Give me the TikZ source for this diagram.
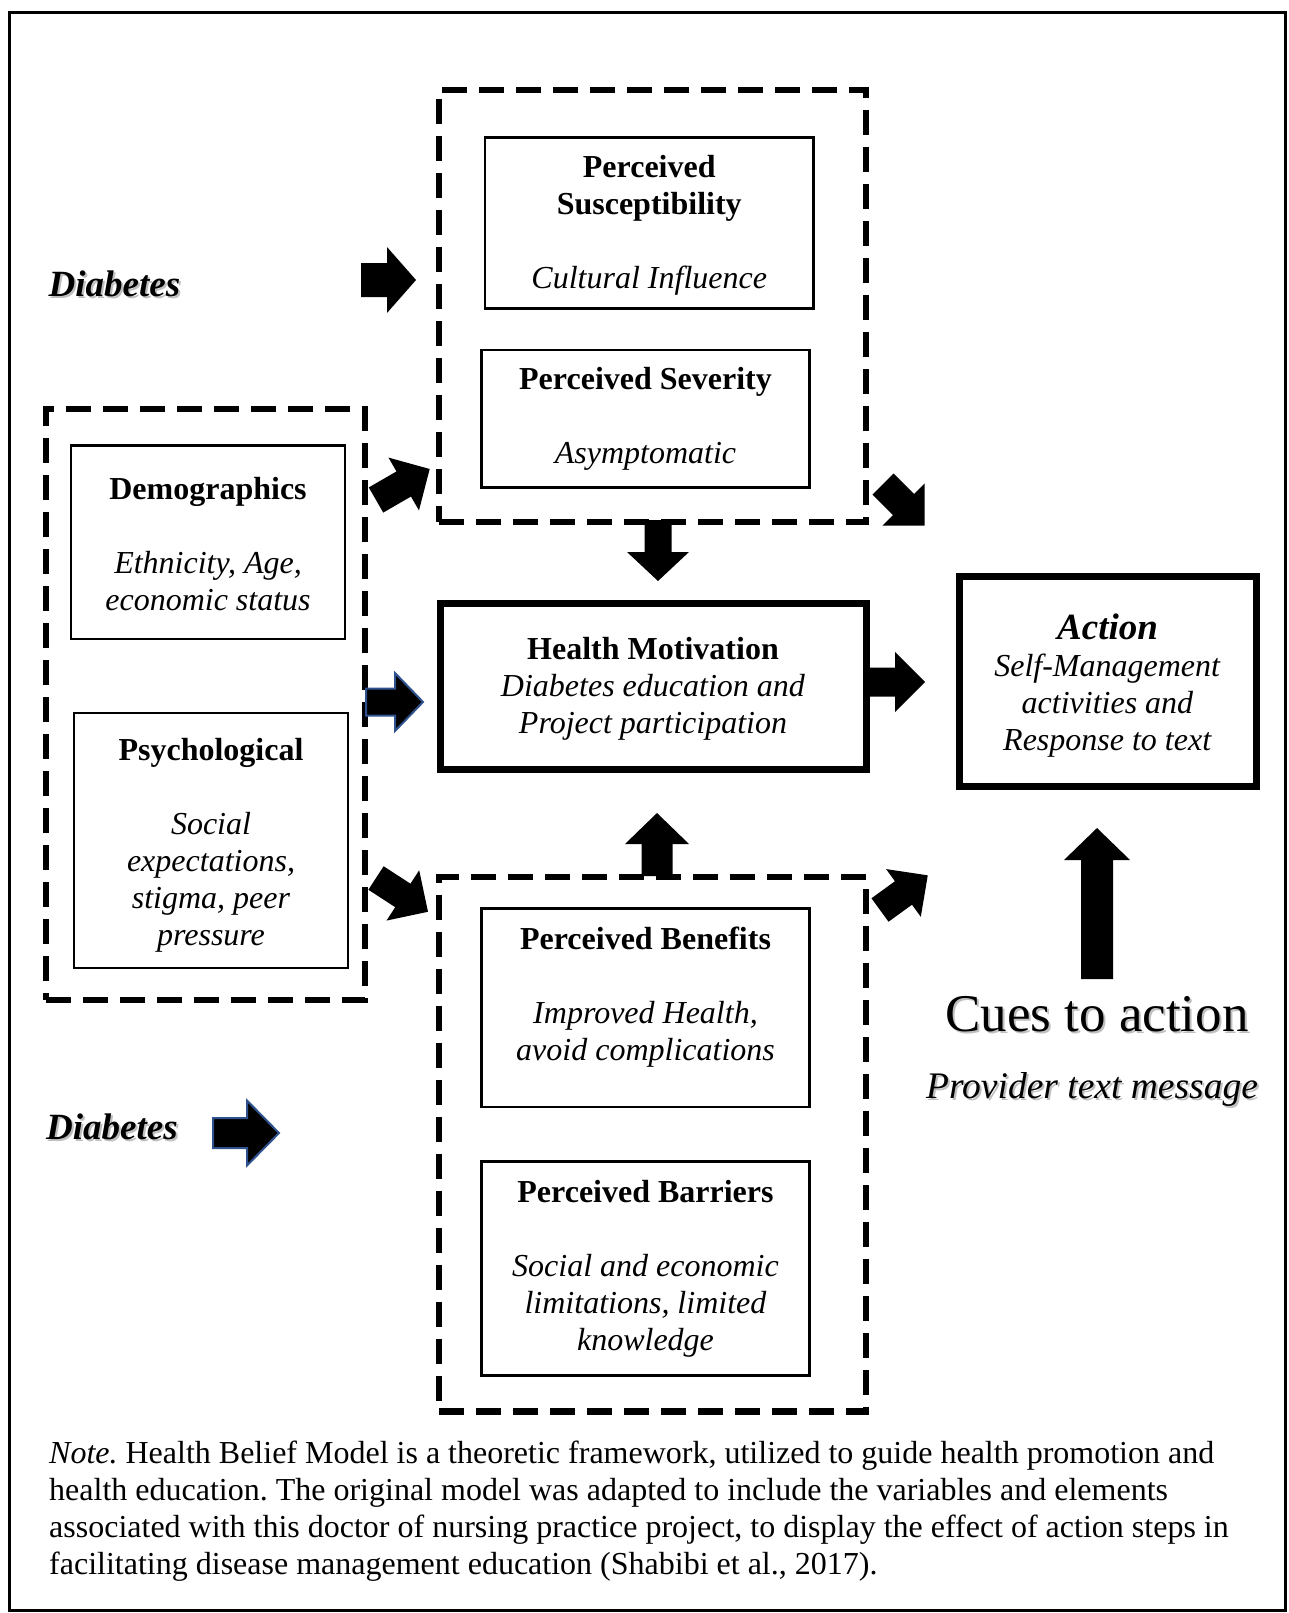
\documentclass[tikz,border=0pt]{standalone}
\usepackage{fontspec}
\setmainfont{Liberation Serif}
\definecolor{outlineblue}{RGB}{47,82,143}
\newcommand{\boxfont}{\fontsize{32}{37}\selectfont}
\newcommand{\blockarrow}[8][]{%
  \path[fill=black, line join=miter, #1, shift={(#2,#3)}, rotate=#4]
    (0,-#6/2) -- ({#5-#8},-#6/2) -- ({#5-#8},-#7/2) -- (#5,0)
    -- ({#5-#8},#7/2) -- ({#5-#8},#6/2) -- (0,#6/2) -- cycle;}

\begin{document}
\begin{tikzpicture}[x=1pt, y=-1pt,
    thinbox/.style={draw, line width=2.5pt, align=center, font=\boxfont},
    thickbox/.style={draw, line width=7pt, align=center, font=\boxfont},
    dashbox/.style={draw, line width=6.5pt, dash pattern=on 25pt off 12pt},
    diab/.style={font=\fontsize{37}{40}\selectfont\bfseries\itshape},
    shade/.style={text=black!25},
    blueline/.style={draw=outlineblue, line width=2pt}]
  \useasboundingbox (0,0) rectangle (1288,1613);
  \draw[line width=3pt] (9,12.5) rectangle (1285.5,1610);

  \node[dashbox, minimum width=427pt, minimum height=432pt] (threat) at (652.5,306) {};
  \node[thinbox, minimum width=328.5pt, minimum height=171pt] (suscept) at (649.25,223)
    {\rule{0pt}{26pt}\textbf{Perceived}\\\textbf{Susceptibility}\\[37pt]\textit{Cultural Influence}};
  \node[thinbox, minimum width=328pt, minimum height=137.5pt] (severity) at (645.5,418.75)
    {\textbf{Perceived Severity}\\[37pt]\textit{Asymptomatic}};

  \node[dashbox, minimum width=319pt, minimum height=591pt] (modifying) at (205.5,704.5) {};
  \node[thinbox, minimum width=274pt, minimum height=193.5pt] (demog) at (208,542.25)
    {\rule{0pt}{26pt}\textbf{Demographics}\\[37pt]\textit{Ethnicity, Age,}\\\textit{economic status}};
  \node[thinbox, minimum width=274pt, minimum height=255pt] (psych) at (211,840.5)
    {\rule{0pt}{32pt}\textbf{Psychological}\\[37pt]\textit{Social}\\\textit{expectations,}\\\textit{stigma, peer}\\\textit{pressure}};

  \node[thickbox, minimum width=426pt, minimum height=166pt] (motiv) at (653,686)
    {\rule{0pt}{28pt}\textbf{Health Motivation}\\\textit{Diabetes education and}\\\textit{Project participation}};
  \node[thickbox, minimum width=297pt, minimum height=210pt] (action) at (1107.5,681)
    {{\fontsize{37}{37}\selectfont\rule{0pt}{35pt}\textbf{\textit{Action}}}\\\textit{Self-Management}\\\textit{activities and}\\\textit{Response to text}};

  \node[dashbox, minimum width=427pt, minimum height=534.5pt] (outcome) at (652.5,1144.25) {};
  \node[thinbox, minimum width=328pt, minimum height=198.5pt] (benefit) at (645.5,1007.75)
    {\textbf{Perceived Benefits}\\[37pt]\textit{Improved Health,}\\\textit{avoid complications}\\[-8pt]\mbox{}};
  \node[thinbox, minimum width=328pt, minimum height=214pt] (barrier) at (645.5,1268.5)
    {\textbf{Perceived Barriers}\\[37pt]\textit{Social and economic}\\\textit{limitations, limited}\\\textit{knowledge}};

  \node[diab, shade] at (116.5,286) {Diabetes};
  \node[diab] (diabtop) at (114.5,284) {Diabetes};
  \node[diab, shade] at (114,1129) {Diabetes};
  \node[diab] (diabbot) at (112,1127) {Diabetes};
  \node[font=\fontsize{53}{60}\selectfont, shade] at (1099,1016) {Cues to action};
  \node[font=\fontsize{53}{60}\selectfont] (cues) at (1097,1014) {Cues to action};
  \node[font=\fontsize{37.5}{42}\selectfont\itshape, shade] at (1094,1091) {Provider text message};
  \node[font=\fontsize{37.5}{42}\selectfont\itshape] (provider) at (1092,1089) {Provider text message};

  \blockarrow{361}{280}{0}{55}{34}{66}{29}
  \blockarrow{376}{500}{30}{62}{29}{61}{30}
  \blockarrow[blueline]{366}{702}{0}{57}{27}{58}{28}
  \blockarrow{376}{878}{-33}{62}{28}{60}{30}
  \blockarrow{658}{520}{-90}{61}{27}{62}{29}
  \blockarrow{883}{484}{-45}{59}{30}{60}{30}
  \blockarrow{870}{682}{0}{55}{29}{60}{30}
  \blockarrow{657}{876}{90}{63}{31}{64}{31}
  \blockarrow{880}{910}{36}{59}{29}{59}{30}
  \blockarrow{1097}{979}{90}{151}{32}{66}{32}
  \blockarrow[blueline]{213}{1133}{0}{66}{30}{65}{32}

  \node[anchor=north west, inner sep=0pt, align=left, font=\fontsize{32}{37}\selectfont\frenchspacing] (note) at (49,1441)
    {\textit{Note.} Health Belief Model is a theoretic framework, utilized to guide health promotion and\\
     health education. The original model was adapted to include the variables and elements\\
     associated with this doctor of nursing practice project, to display the effect of action steps in\\
     facilitating disease management education (Shabibi et al., 2017).};
\end{tikzpicture}
\end{document}
